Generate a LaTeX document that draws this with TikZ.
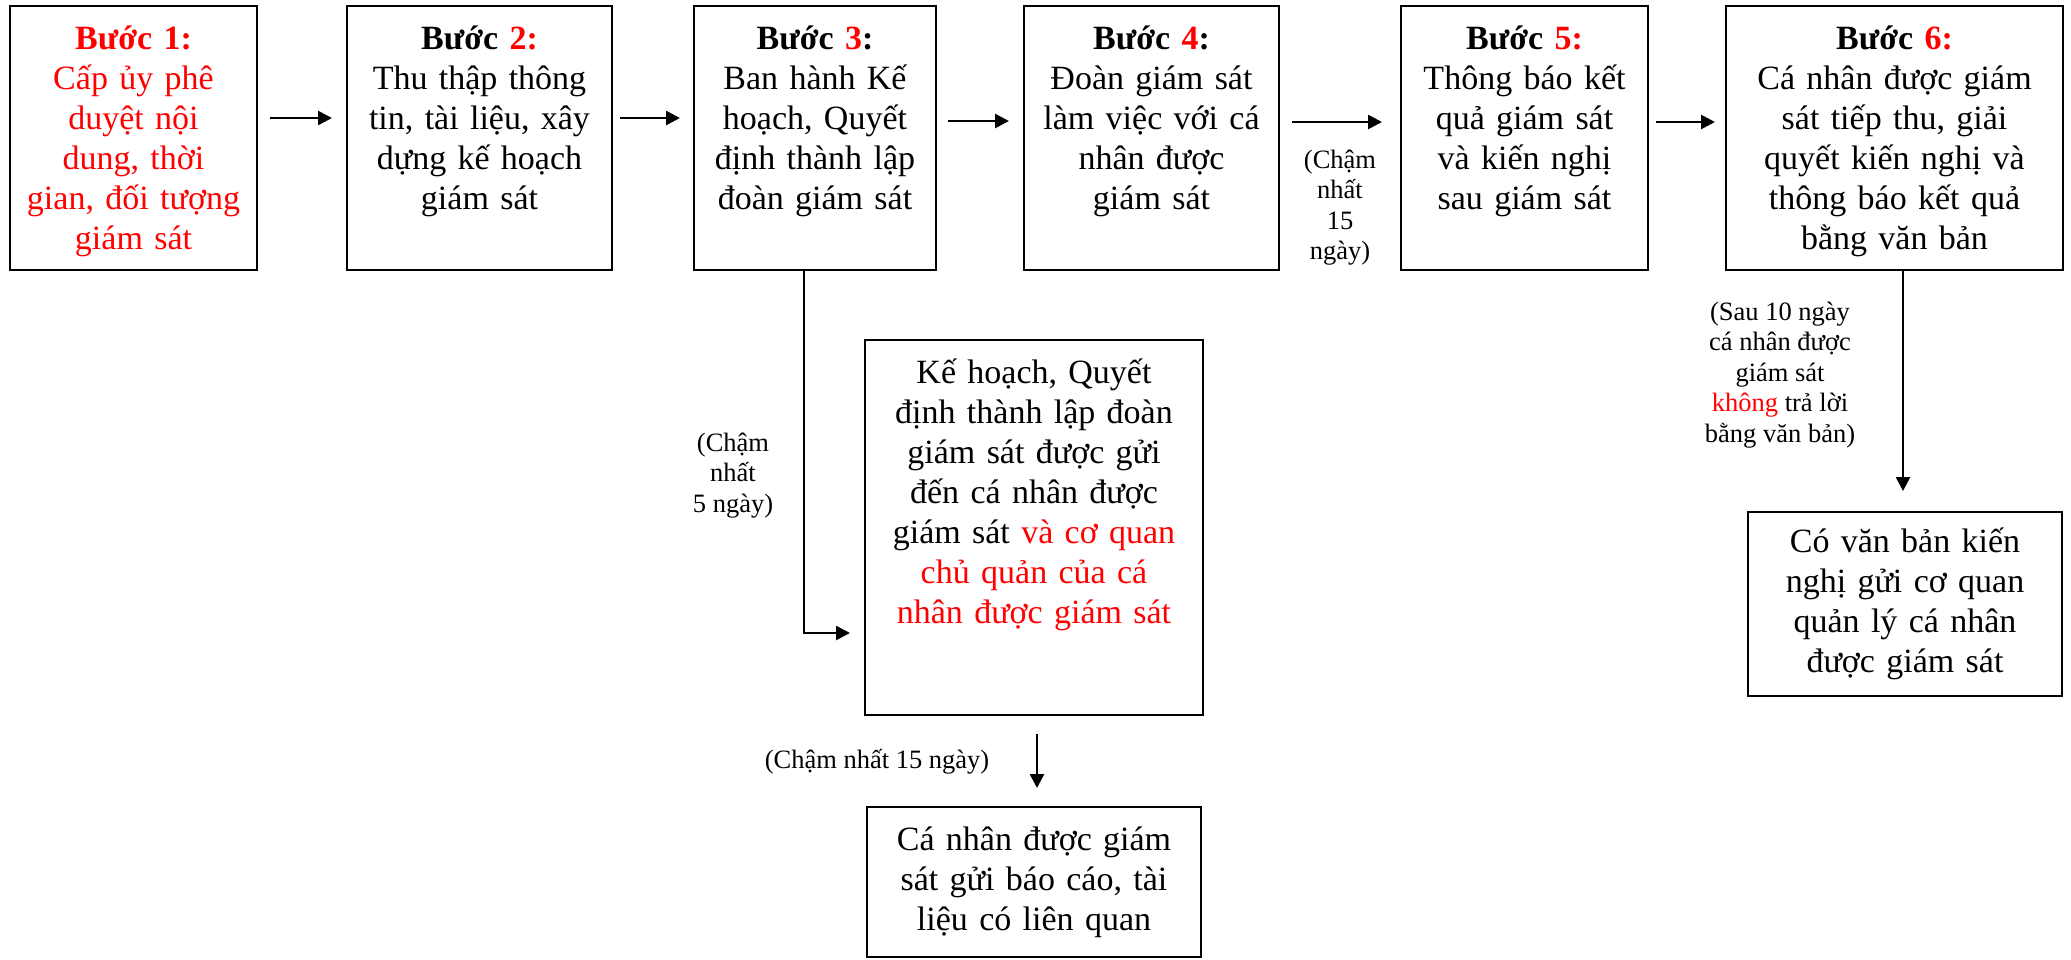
\documentclass[tikz,border=0pt]{standalone}
\usepackage{fontspec}
\setmainfont{Liberation Serif}
\usepackage{xcolor}
\usepackage{tikz}
\usetikzlibrary{positioning,arrows.meta}
\pgfdeclarelayer{nodelayer}
\pgfdeclarelayer{edgelayer}
\pgfsetlayers{main,nodelayer,edgelayer}
\tikzstyle{stage}=[draw=black, line width=1.8pt, fill=white, align=center, inner sep=0pt, outer sep=0pt, text height=43pt, font=\fontsize{34}{40}\selectfont]
\tikzstyle{flow_edge}=[-{Triangle[length=14pt, width=14pt]}, draw=black, line width=2.6pt]
\tikzstyle{delay}=[align=center, inner sep=0pt, anchor=base, font=\fontsize{26.5}{30.5}\selectfont]

\begin{document}
\begin{tikzpicture}[x=1pt, y=-1pt]
        \useasboundingbox (0,0) rectangle (2071,959);
        \begin{pgfonlayer}{nodelayer}
            \node[style=stage, text=red, text width=247pt, text depth=221pt] (s1) at (133.5,138) {\textbf{Bước 1:}\\Cấp ủy phê\\duyệt nội\\dung, thời\\gian, đối tượng\\giám sát};
            \node[style=stage, text width=265pt, text depth=221pt, right=90pt of s1] (s2) {\textbf{Bước {\color{red}2:}}\\Thu thập thông\\tin, tài liệu, xây\\dựng kế hoạch\\giám sát};
            \node[style=stage, text width=242pt, text depth=221pt, right=82pt of s2] (s3) {\textbf{Bước {\color{red}3}:}\\Ban hành Kế\\hoạch, Quyết\\định thành lập\\đoàn giám sát};
            \node[style=stage, text width=255pt, text depth=221pt, right=88pt of s3] (s4) {\textbf{Bước {\color{red}4}:}\\Đoàn giám sát\\làm việc với cá\\nhân được\\giám sát};
            \node[style=stage, text width=247pt, text depth=221pt, right=122pt of s4] (s5) {\textbf{Bước {\color{red}5:}}\\Thông báo kết\\quả giám sát\\và kiến nghị\\sau giám sát};
            \node[style=stage, text width=337pt, text depth=221pt, right=78pt of s5] (s6) {\textbf{Bước {\color{red}6:}}\\Cá nhân được giám\\sát tiếp thu, giải\\quyết kiến nghị và\\thông báo kết quả\\bằng văn bản};
            \node[style=stage, text width=338pt, text depth=332pt] (s7) at (1034,527.5) {Kế hoạch, Quyết\\định thành lập đoàn\\giám sát được gửi\\đến cá nhân được\\giám sát {\color{red}và cơ quan}\\{\color{red}chủ quản của cá}\\{\color{red}nhân được giám sát}};
            \node[style=stage, text width=334pt, text depth=107pt] (s8) at (1034,882) {Cá nhân được giám\\sát gửi báo cáo, tài\\liệu có liên quan};
            \node[style=stage, text width=314pt, text depth=144pt, text height=40pt] (s9) at (1905,604) {Có văn bản kiến\\nghị gửi cơ quan\\quản lý cá nhân\\được giám sát};
            % base = last line
            \node[style=delay] (d3) at (733,512) {(Chậm\\nhất\\5 ngày)};
            \node[style=delay] (d4) at (1340,259.5) {(Chậm\\nhất\\15\\ngày)};
            \node[style=delay] (d7) at (877,768) {(Chậm nhất 15 ngày)};
            \node[style=delay] (d6) at (1780,442) {(Sau 10 ngày\\cá nhân được\\giám sát\\{\color{red}không} trả lời\\bằng văn bản)};
        \end{pgfonlayer}
        \begin{pgfonlayer}{edgelayer}
            \draw[style={flow_edge}, shorten <=13pt, shorten >=15pt] ([yshift=20pt]s1.east) -- ([yshift=20pt]s2.west);
            \draw[style={flow_edge}, shorten <=8pt, shorten >=14pt] ([yshift=20pt]s2.east) -- ([yshift=20pt]s3.west);
            \draw[style={flow_edge}, shorten <=12pt, shorten >=15pt] ([yshift=17pt]s3.east) -- ([yshift=17pt]s4.west);
            \draw[style={flow_edge}, shorten <=13pt, shorten >=19pt] ([yshift=16pt]s4.east) -- ([yshift=16pt]s5.west);
            \draw[style={flow_edge}, shorten <=8pt, shorten >=11pt] ([yshift=16pt]s5.east) -- ([yshift=16pt]s6.west);
            \draw[style={flow_edge}, shorten >=15pt] ([xshift=-11pt]s3.south) |- ([yshift=-105.5pt]s7.west);
            \draw[style={flow_edge}, shorten <=19pt, shorten >=19pt] ([xshift=3pt]s7.south) -- ([xshift=3pt]s7.south |- s8.north);
            \draw[style={flow_edge}, shorten >=21pt] ([xshift=8.5pt]s6.south) -- ([xshift=8.5pt]s6.south |- s9.north);
        \end{pgfonlayer}
\end{tikzpicture}
\end{document}
